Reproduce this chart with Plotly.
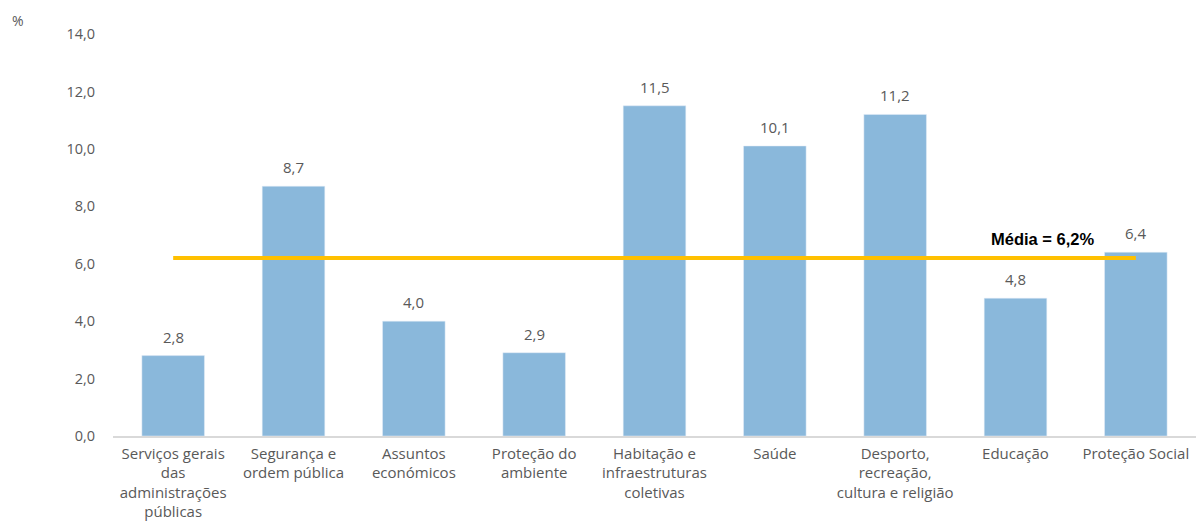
import plotly.graph_objects as go

categories = [
    "Serviços gerais<br>das<br>administrações<br>públicas",
    "Segurança e<br>ordem pública",
    "Assuntos<br>económicos",
    "Proteção do<br>ambiente",
    "Habitação e<br>infraestruturas<br>coletivas",
    "Saúde",
    "Desporto,<br>recreação,<br>cultura e religião",
    "Educação",
    "Proteção Social",
]
values = [2.8, 8.7, 4.0, 2.9, 11.5, 10.1, 11.2, 4.8, 6.4]
average = 6.2
y_ticks = [0, 2, 4, 6, 8, 10, 12, 14]

font_family = "Open Sans, Noto Sans, sans-serif"
grey = "#595959"

fig = go.Figure()
fig.add_trace(go.Bar(
    x=categories, y=values, marker_color="#8AB8DB", width=0.52,
    showlegend=False, hoverinfo="skip",
))
fig.add_trace(go.Scatter(
    x=[categories[0], categories[-1]], y=[average, average], mode="lines",
    line=dict(color="#FFC000", width=4), showlegend=False, hoverinfo="skip",
))
for c, v in zip(categories, values):
    fig.add_annotation(
        x=c, y=v, xref="x", yref="y", yanchor="bottom", yshift=7,
        text=f"{v:.1f}".replace(".", ","), showarrow=False,
        font=dict(family=font_family, size=15, color=grey),
    )
fig.add_annotation(
    x=categories[7], y=average, xref="x", yref="y", text="<b>Média = 6,2%</b>",
    showarrow=False, yshift=19, xshift=27,
    font=dict(family="Liberation Sans, Arial, sans-serif", size=16.5, color="black"),
)
fig.add_annotation(
    x=0, xref="paper", xshift=-103, y=14, yref="y", yshift=14,
    xanchor="left", yanchor="middle",
    text="%", showarrow=False, font=dict(family=font_family, size=14, color=grey),
)
fig.update_layout(
    width=1196, height=523, plot_bgcolor="white", paper_bgcolor="white",
    margin=dict(l=113, r=0, t=34, b=87), separators=",.",
    bargap=0.48,
)
fig.update_xaxes(
    showline=True, linecolor="#D9D9D9", linewidth=1.5, showgrid=False, ticks="",
    tickfont=dict(family=font_family, size=15, color=grey), tickangle=0,
    range=[-0.5, 8.5], ticklabelstandoff=3,
)
fig.update_yaxes(
    range=[0, 14], tickvals=y_ticks, tickformat=".1f", showgrid=False,
    zeroline=False, showline=False, ticks="outside", ticklen=14, tickcolor="white",
    tickfont=dict(family=font_family, size=14.5, color=grey),
)
fig.write_html(
    "out.html",
    config={"displayModeBar": False},
    post_script="document.body.style.margin='0';document.body.style.overflow='hidden';",
)
